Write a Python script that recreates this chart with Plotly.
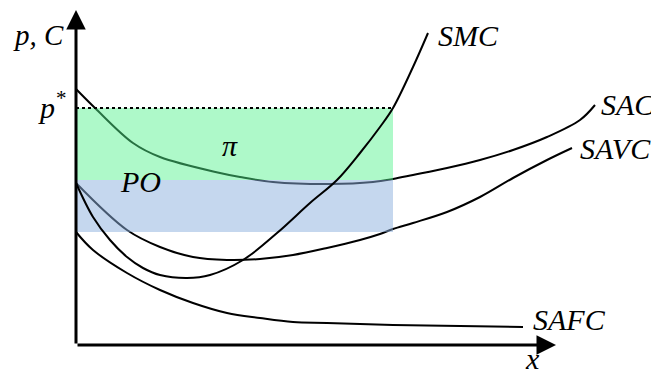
import plotly.graph_objects as go

# ---- data (x = quantity, y = price/cost) ----
sac_x  = [0, 19, 57, 84, 144, 164, 197, 254, 297, 317, 337, 371, 404, 437, 471, 504, 519]
sac_y  = [256, 237, 202, 188, 172, 168, 163, 161, 163, 166, 170, 177, 185, 195, 208, 225, 240]

savc_x = [0, 51, 84, 117, 151, 184, 217, 251, 284, 304, 317, 337, 371, 404, 437, 471, 496]
savc_y = [162, 115, 98, 88, 85, 86, 90, 97, 105, 111, 116, 122, 133, 148, 167, 185, 197]

smc_x  = [0, 17, 34, 51, 67, 84, 111, 134, 167, 201, 234, 261, 284, 304, 317, 337, 352]
smc_y  = [162, 128, 105, 88, 77, 70, 67, 70, 85, 112, 142, 165, 192, 218, 237, 278, 312]

safc_x = [0, 17, 51, 84, 117, 151, 184, 217, 251, 317, 447]
safc_y = [113, 95, 72, 55, 42, 32, 27, 23, 22, 20, 18]

p_star = 237      # market price
q_star = 317      # optimal output
sac_q = 165       # average cost at q*
safc_0 = 113      # lower edge of PO area

x_max = 480
y_max = 335

FONT = "Liberation Serif"

fig = go.Figure()

line_style = dict(color="black", width=2, shape="spline", smoothing=1.0)

fig.add_trace(go.Scatter(x=safc_x, y=safc_y, mode="lines", line=line_style, hoverinfo="skip"))
fig.add_trace(go.Scatter(x=sac_x, y=sac_y, mode="lines", line=line_style, hoverinfo="skip"))
fig.add_trace(go.Scatter(x=savc_x, y=savc_y, mode="lines", line=line_style, hoverinfo="skip"))

# profit (green) and PO (blue) rectangles, semi-transparent
fig.add_trace(go.Scatter(x=[0, q_star, q_star, 0, 0], y=[sac_q, sac_q, p_star, p_star, sac_q],
                         mode="lines", fill="toself", fillcolor="rgba(83,243,140,0.47)",
                         line=dict(width=0), hoverinfo="skip"))
fig.add_trace(go.Scatter(x=[0, q_star, q_star, 0, 0], y=[safc_0, safc_0, sac_q, sac_q, safc_0],
                         mode="lines", fill="toself", fillcolor="rgba(140,175,222,0.5)",
                         line=dict(width=0), hoverinfo="skip"))
# dotted price line
fig.add_trace(go.Scatter(x=[0, q_star], y=[p_star, p_star], mode="lines",
                         line=dict(color="black", width=2, dash="dot"), hoverinfo="skip"))

fig.add_trace(go.Scatter(x=smc_x, y=smc_y, mode="lines", line=line_style, hoverinfo="skip"))

# axes arrows
for (x1, y1) in [(0, y_max), (x_max, 0)]:
    fig.add_annotation(x=x1, y=y1, ax=0, ay=0, xref="x", yref="y", axref="x", ayref="y",
                       text="", showarrow=True, arrowhead=2, arrowsize=1.3, arrowwidth=3,
                       arrowcolor="black")

def label(text, x, y, xanchor="left", size=30):
    fig.add_annotation(x=x, y=y, xref="x", yref="y", text=text, showarrow=False,
                       xanchor=xanchor, yanchor="middle",
                       font=dict(family=FONT, size=size, color="black", style="italic"))

label("SMC", 360, 310)
label("SAC", 523, 241)
label("SAVC", 502, 197)
label("SAFC", 455, 26)
label("x", 456, -13, xanchor="center")
label("p, C", -65, 310, size=29)
label("p<sup>*</sup>", -8, 240, xanchor="right")
label("π", 154, 200, xanchor="center")
label("PO", 64, 164, xanchor="center")

# page has an 8px body margin: size the figure to fit the window
fig.update_layout(
    width=651, height=368,
    margin=dict(l=0, r=0, t=0, b=0),
    plot_bgcolor="white", paper_bgcolor="white",
    showlegend=False,
    xaxis=dict(range=[-68, 583], visible=False, fixedrange=True),
    yaxis=dict(range=[-31, 337], visible=False, fixedrange=True),
)

fig.write_html("out.html")
